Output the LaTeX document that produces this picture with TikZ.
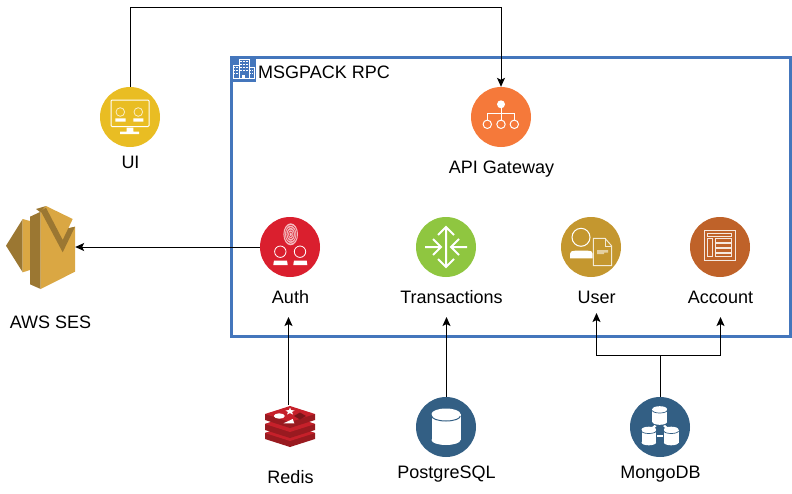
\documentclass[tikz,border=0pt]{standalone}
\usepackage{fontspec}
\setmainfont{Liberation Sans}
\usetikzlibrary{arrows.meta}
\definecolor{frameblue}{HTML}{4476BC}
\definecolor{cUI}{HTML}{E9BD23}
\definecolor{cAPI}{HTML}{F5793A}
\definecolor{cAuth}{HTML}{DA1F2E}
\definecolor{cTrans}{HTML}{8FC640}
\definecolor{cUser}{HTML}{C4972F}
\definecolor{cAcc}{HTML}{BF6229}
\definecolor{cDB}{HTML}{335F84}
\definecolor{sesL}{HTML}{DAA743}
\definecolor{sesD}{HTML}{9B7732}
\definecolor{redT}{HTML}{C6202A}
\definecolor{redD}{HTML}{991A20}
\tikzset{
  x=1pt,y=-1pt,
  disc/.style={circle,minimum size=60pt,inner sep=0pt,fill=#1},
  lbl/.style={font=\fontsize{18}{20}\selectfont,inner sep=0pt,text=black,anchor=base},
  conn/.style={draw=black,line width=1pt},
  arr/.style={conn,-{Stealth[length=9pt,width=8pt,inset=2pt]}},
  wl/.style={draw=white,line width=1pt},
  wp/.style={draw=white!75!#1,line width=0.8pt},
}
\begin{document}
\begin{tikzpicture}
\useasboundingbox (0,0) rectangle (792,493);
% frame
\node[draw=frameblue,line width=3pt,minimum width=559pt,minimum height=279pt,inner sep=0pt] (frame) at (510.5,197) {};
\node[fill=frameblue,minimum size=25pt,inner sep=0pt] (frameicon) at (243,69.5) {};
\begin{scope}[shift={(243,69.5)}]
  \draw[white,line width=0.7pt] (-4,-10) rectangle (6,9) (-10,-4) rectangle (-4,9) (6,-2) rectangle (11,9);
  \foreach \xx in {-2,1,4}{\foreach \yy in {-8,-5,-2,1}{\fill[white] (\xx-0.8,\yy-0.8) rectangle (\xx+0.8,\yy+0.8);}}
  \foreach \xx in {-8.5,-6}{\foreach \yy in {-2,1,4}{\fill[white] (\xx-0.6,\yy-0.6) rectangle (\xx+0.6,\yy+0.6);}}
  \foreach \xx in {7.7,9.7}{\foreach \yy in {1,4}{\fill[white] (\xx-0.6,\yy-0.6) rectangle (\xx+0.6,\yy+0.6);}}
  \fill[white] (-1,5) rectangle (2,9);
\end{scope}
\node[lbl,anchor=base west] (frametitle) at (258,78) {MSGPACK RPC};
% discs
\node[disc=cUI] (ui) at (130,117) {};
\node[disc=cAPI] (api) at (501,117) {};
\node[disc=cAuth] (auth) at (290,247) {};
\node[disc=cTrans] (trans) at (446,247) {};
\node[disc=cUser] (user) at (591,247) {};
\node[disc=cAcc] (account) at (720,247) {};
\node[disc=cDB] (pg) at (446,427) {};
\node[disc=cDB] (mongo) at (660,427) {};
\node[minimum width=69pt,minimum height=85pt,inner sep=0pt] (ses) at (40.5,247) {};
\node[minimum width=50pt,minimum height=42pt,inner sep=0pt] (redis) at (290,426) {};
% labels
\node[lbl] (luI) at (130.5,168) {UI};
\node[lbl] (lapi) at (501.5,173) {API Gateway};
\node[lbl] (lauth) at (290.5,303) {Auth};
\node[lbl] (ltrans) at (451.5,303) {Transactions};
\node[lbl] (luser) at (596.5,303) {User};
\node[lbl] (lacc) at (720.5,303) {Account};
\node[lbl] (lses) at (50.5,328) {AWS SES};
\node[lbl] (lredis) at (290.5,483) {Redis};
\node[lbl] (lpg) at (446.5,478) {PostgreSQL};
\node[lbl] (lmongo) at (660.5,478) {MongoDB};
% UI icon
\begin{scope}[shift={(130,117)}]
  \draw[wl,rounded corners=1pt] (-19,-17) rectangle (19,9.5);
  \draw[wp=cUI] (-9.7,-5) circle (4.3) (8.3,-5) circle (4.3);
  \fill[white] (-14.7,1.3) rectangle (-4.3,4.7) (3.3,1.3) rectangle (13.3,4.7);
  \fill[white] (-3.3,10.5) rectangle (3.3,14.7) (-10,14.7) rectangle (9,17);
\end{scope}
% API icon
\begin{scope}[shift={(501,117)}]
  \fill[white] (0,-12.7) circle (4);
  \draw[white,line width=0.7pt] (0,-9) -- (0,3) (-13.7,3) -- (-13.7,-3.7) -- (13,-3.7) -- (13,3);
  \draw[white,line width=1pt] (-13.7,7.3) circle (4.2) (0,7.3) circle (4.2) (13.3,7.3) circle (4.2);
\end{scope}
% Auth icon
\begin{scope}[shift={(290,247)}]
  \fill[white!70!cAuth] (0.7,-12.7) ellipse [x radius=7.3,y radius=11];
  \foreach \r in {1.5,3,4.5,6}{\draw[cAuth,line width=0.45pt] (0.7,-12.7) ellipse [x radius=\r,y radius=\r*1.5];}
  \draw[white,line width=0.8pt] (-9.7,4.7) circle (5.7) (10,4.7) circle (5.7);
  \fill[white] (-16.7,18) -- (-16,13.5) -- (-3,13.5) -- (-2.3,18) -- cycle;
  \fill[white] (3.3,18) -- (4,13.5) -- (16.7,13.5) -- (17.3,18) -- cycle;
\end{scope}
% Transactions icon
\begin{scope}[shift={(446,247)}]
  \draw[white,line width=2pt] (0,-20) -- (0,20) (-8,-12) -- (0,-20) -- (8,-12) (-8,12) -- (0,20) -- (8,12);
  \draw[white,line width=2pt] (-21,0) -- (-5,0) (-13,-8) -- (-5,0) -- (-13,8) (21,0) -- (5,0) (13,-8) -- (5,0) -- (13,8);
\end{scope}
% User icon
\begin{scope}[shift={(591,247)}]
  \draw[white,line width=1pt] (-10,-9.7) circle (9);
  \fill[white] (-21,11.3) -- (-21,6.7) .. controls (-21,4.5) and (-19,3.7) .. (-16,3.7) -- (-3,3.7) .. controls (0,3.7) and (1.7,4.5) .. (1.7,6.7) -- (1.7,11.3) -- cycle;
  \fill[cUser] (1.7,-9) rectangle (21,19);
  \draw[white!80!cUser,line width=1pt] (2.3,-8.7) -- (14,-8.7) -- (20.7,-1) -- (20.7,18.7) -- (2.3,18.7) -- cycle;
  \draw[white!80!cUser,line width=0.7pt] (14,-8.7) -- (14,-1) -- (20.7,-1);
  \fill[white!55!cUser] (6,3) rectangle (17,5.5) (6,5.5) rectangle (13,7);
\end{scope}
% Account icon
\begin{scope}[shift={(720,247)}]
  \draw[white!85!cAcc,line width=1pt] (-15.7,-17) rectangle (15.3,13.7);
  \draw[white!85!cAcc,line width=0.8pt] (-12.3,-13.7) rectangle (11.7,-10.3);
  \draw[white!85!cAcc,line width=0.8pt] (-12.3,-8.3) rectangle (-7.3,9.7);
  \foreach \yy in {-8.3,-3.5,1.3,6}{\draw[white!85!cAcc,line width=0.8pt] (-5,\yy) rectangle (11.7,\yy+3.7);}
\end{scope}
% SES icon
\fill[sesD] (6,245.7) -- (22.7,219) -- (22.7,272.3) -- cycle;
\fill[sesL] (22.7,219) -- (30,221) -- (30,270) -- (22.7,272.3) -- cycle;
\fill[sesD] (30,216.7) -- (40.7,211.7) -- (40.7,289) -- (30,284.3) -- cycle;
\fill[sesD] (36,209) -- (46,206) -- (40.7,212.5) -- cycle;
\fill[sesL] (40.7,211.7) -- (46,206) -- (72.7,219) -- (68.3,228.3) -- (75,226.7) -- (75,271.7) -- (40.7,289) -- cycle;
\fill[sesD] (40.7,211) -- (46,207.7) -- (62.7,240) -- (68.3,228.3) -- (75,226.7) -- (62.7,252.3) -- cycle;
% Redis icon
\foreach \yy in {425,416}{
  \fill[redD] (265,\yy+8) -- (265,\yy+14) -- (290,\yy+22) -- (315,\yy+14) -- (315,\yy+8) -- (290,\yy) -- cycle;
  \fill[redT] (265,\yy+8) -- (290,\yy) -- (315,\yy+8) -- (290,\yy+16) -- cycle;
}
\fill[redD] (265,414) -- (265,420) -- (290,428) -- (315,420) -- (315,414) -- cycle;
\fill[redT] (265,414) -- (290,406) -- (315,414) -- (290,422) -- cycle;
\fill[white] (279.3,416) ellipse [x radius=5.5,y radius=2.7];
\fill[white] (290,407.5) -- (291,410) -- (294.5,410.5) -- (292,412) -- (293,414.5) -- (290,413) -- (287,414.5) -- (288,412) -- (285.5,410.5) -- (289,410) -- cycle;
\fill[white] (283.5,423.3) -- (294.3,423.3) -- (292.7,419) -- cycle;
\fill[redD!80!black] (300,412.5) -- (306,416) -- (300,419.5) -- (294,416) -- cycle;
% PostgreSQL icon
\begin{scope}[shift={(446,427)}]
  \fill[white] (-14.5,-13) rectangle (14.5,13);
  \fill[white] (0,-13) ellipse [x radius=14.5,y radius=5.5];
  \fill[white] (0,13) ellipse [x radius=14.5,y radius=5];
  \draw[cDB,line width=1pt] (-14.3,-11) arc[start angle=180,end angle=0,x radius=14.3,y radius=5];
\end{scope}
% MongoDB icon
\begin{scope}[shift={(660,427)}]
  \foreach \cx/\cy in {-0.3/-12,-11.2/8.5,11.2/8.5}{
    \fill[white] (\cx-7.3,\cy-6) rectangle (\cx+7.3,\cy+7);
    \fill[white] (\cx,\cy-6) ellipse [x radius=7.3,y radius=2.8];
    \fill[white] (\cx,\cy+7) ellipse [x radius=7.3,y radius=2.8];
    \draw[cDB,line width=0.7pt] (\cx-7.3,\cy-4.5) arc[start angle=180,end angle=0,x radius=7.3,y radius=2.5];
  }
  \fill[white] (-3,7.7) rectangle (3,10.3);
  \fill[white] (-5.5,-2) -- (-8.5,0.5) -- (-6,1.5) -- (-3.5,-1) -- cycle;
  \fill[white] (5,-2) -- (8,0.5) -- (5.5,1.5) -- (3,-1) -- cycle;
\end{scope}
% connectors
\coordinate (topL) at (130,7.5);
\coordinate (authin) at (288.5,317);
\coordinate (transin) at (446.5,317);
\coordinate (userin) at (596.5,313);
\coordinate (accin) at (720.5,317);
\coordinate (mjoin) at (660,355);
\draw[arr] (ui.north) -- (topL) -| (api.north);
\draw[arr] (auth.west) -- (ses.east);
\draw[arr] (authin |- redis.north) -- (authin);
\draw[arr] (transin |- pg.north) -- (transin);
\draw[conn] (mongo.north) -- (mjoin);
\draw[arr] (mjoin) -| (userin);
\draw[arr] (mjoin) -| (accin);
\end{tikzpicture}
\end{document}
